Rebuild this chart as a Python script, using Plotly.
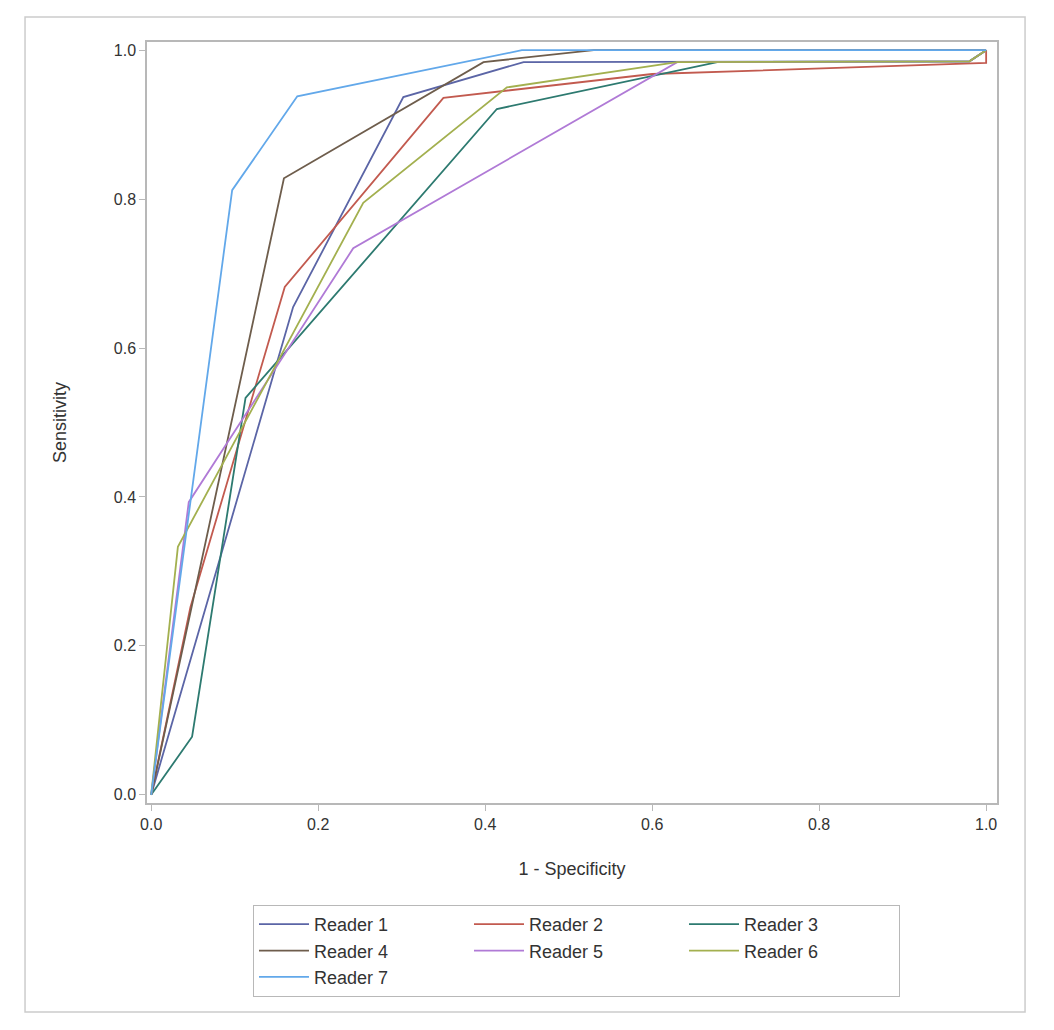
import plotly.graph_objects as go

readers = ["Reader 1", "Reader 2", "Reader 3", "Reader 4", "Reader 5", "Reader 6", "Reader 7"]

r1_x = [0.0, 0.170, 0.302, 0.446, 0.98, 1.0]
r1_y = [0.0, 0.655, 0.937, 0.984, 0.985, 1.0]
r2_x = [0.0, 0.047, 0.160, 0.350, 0.60, 1.0, 1.0]
r2_y = [0.0, 0.252, 0.682, 0.936, 0.968, 0.983, 1.0]
r3_x = [0.0, 0.049, 0.113, 0.414, 0.678, 0.98, 1.0]
r3_y = [0.0, 0.078, 0.533, 0.921, 0.984, 0.985, 1.0]
r4_x = [0.0, 0.159, 0.398, 0.53, 1.0]
r4_y = [0.0, 0.828, 0.984, 1.0, 1.0]
r5_x = [0.0, 0.045, 0.242, 0.63, 0.98, 1.0]
r5_y = [0.0, 0.393, 0.734, 0.984, 0.985, 1.0]
r6_x = [0.0, 0.032, 0.254, 0.426, 0.63, 0.98, 1.0]
r6_y = [0.0, 0.333, 0.795, 0.950, 0.984, 0.985, 1.0]
r7_x = [0.0, 0.097, 0.175, 0.444, 1.0]
r7_y = [0.0, 0.812, 0.938, 1.0, 1.0]

xs = [r1_x, r2_x, r3_x, r4_x, r5_x, r6_x, r7_x]
ys = [r1_y, r2_y, r3_y, r4_y, r5_y, r6_y, r7_y]
colors = ["#5b65a6", "#c25a4f", "#2d7a70", "#6e5d4c", "#b07ad6", "#a3b04f", "#62a8ea"]

x_ticks = [0.0, 0.2, 0.4, 0.6, 0.8, 1.0]
y_ticks = [0.0, 0.2, 0.4, 0.6, 0.8, 1.0]

FONT = "Liberation Sans, Arial, sans-serif"

fig = go.Figure()
for name, x, y, c in zip(readers, xs, ys, colors):
    fig.add_trace(go.Scatter(x=x, y=y, mode="lines", name=name,
                             line=dict(color=c, width=1.8)))

axis_common = dict(
    showgrid=False, zeroline=False, showline=True, mirror=True,
    linecolor="#b8b8b8", linewidth=1.5, ticks="outside", ticklen=6,
    tickcolor="#b8b8b8", tickfont=dict(size=16, color="#333333", family=FONT),
    tickformat=".1f",
)

fig.update_layout(
    width=1038, height=1014,
    paper_bgcolor="white", plot_bgcolor="white",
    margin=dict(l=139, r=49, t=34, b=219),
    font=dict(family=FONT, color="#333333"),
    xaxis=dict(range=[-0.005, 1.013], tickvals=x_ticks,
               title=dict(text="1 - Specificity", font=dict(size=18), standoff=30),
               **axis_common),
    yaxis=dict(range=[-0.011, 1.011], tickvals=y_ticks,
               title=dict(text="Sensitivity", font=dict(size=18), standoff=42),
               **axis_common),
    legend=dict(orientation="h", x=0.1247, xanchor="left", y=-0.134, yanchor="top",
                bordercolor="#b8b8b8", borderwidth=1, bgcolor="white",
                font=dict(size=18, color="#333333"), entrywidth=150,
                itemwidth=50, traceorder="normal"),
    showlegend=True,
)

fig.add_shape(type="rect", xref="paper", yref="paper",
              x0=-0.1435, x1=1.033, y0=-0.2746, y1=1.033,
              line=dict(color="#cccccc", width=1.5), fillcolor="rgba(0,0,0,0)",
              layer="below")

fig.write_html("out.html")
